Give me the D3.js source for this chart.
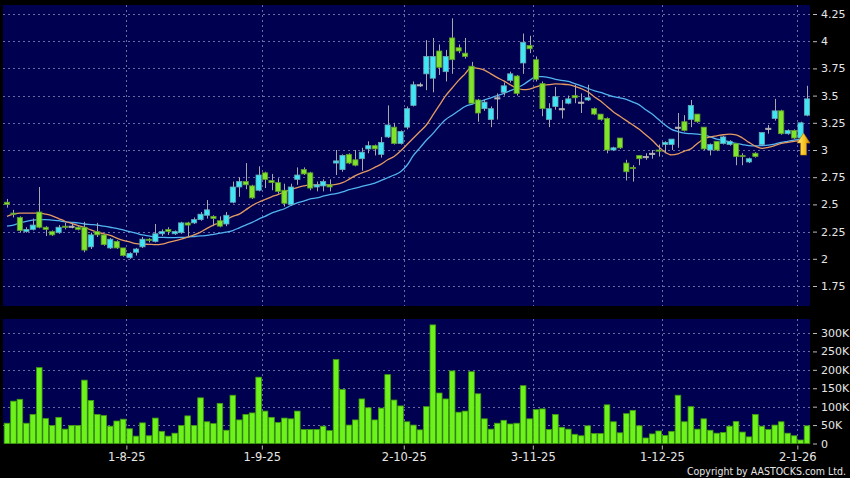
<!DOCTYPE html>
<html><head><meta charset="utf-8">
<script src="https://cdn.jsdelivr.net/npm/d3@7"></script>
<style>body{margin:0;background:#000;}svg{display:block;}</style>
</head><body><svg id="chart" width="850" height="478"></svg>
<script>
// ---------- DATA ----------
const openP  = [2.52,2.42,2.38,2.25,2.27,2.43,2.29,2.25,2.24,2.30,2.30,2.29,2.29,2.11,2.25,2.22,2.10,2.16,2.10,2.01,2.06,2.11,2.18,2.16,2.23,2.27,2.23,2.24,2.33,2.33,
2.36,2.40,2.39,2.35,2.32,2.52,2.66,2.71,2.67,2.63,2.79,2.72,2.70,2.63,2.50,2.73,2.82,2.79,2.66,2.67,2.68,2.88,2.82,2.96,2.91,2.92,3.01,3.04,2.96,3.12,
3.21,3.06,3.21,3.41,3.60,3.70,3.66,3.91,3.72,4.03,3.94,3.89,3.77,3.46,3.38,3.28,3.48,3.53,3.64,3.68,3.80,3.96,3.83,3.61,3.28,3.40,3.38,3.43,3.50,3.44,
3.46,3.38,3.33,3.29,3.00,3.11,2.88,2.84,2.95,2.94,2.97,3.00,3.05,3.05,3.21,3.26,3.28,3.33,3.21,3.00,3.08,3.06,3.05,3.06,2.95,2.89,2.97,3.05,3.20,3.29,
3.36,3.15,3.18,3.11,3.32];
const highP  = [2.55,2.45,2.39,2.29,2.37,2.66,2.30,2.26,2.31,2.33,2.32,2.30,2.34,2.24,2.33,2.23,2.19,2.17,2.10,2.06,2.10,2.20,2.19,2.32,2.27,2.29,2.26,2.34,2.34,2.38,
2.43,2.54,2.40,2.39,2.43,2.71,2.75,2.88,2.68,2.85,2.80,2.78,2.74,2.69,2.69,2.84,2.84,2.80,2.71,2.73,2.73,3.00,2.96,2.97,3.00,3.02,3.08,3.05,3.12,3.41,
3.25,3.18,3.40,3.63,3.62,4.01,4.03,3.97,3.92,4.21,3.97,4.03,3.81,3.47,3.46,3.40,3.52,3.62,3.72,3.69,4.07,4.05,3.86,3.63,3.43,3.58,3.46,3.50,3.60,3.52,
3.60,3.39,3.33,3.30,3.03,3.11,2.91,2.86,2.95,2.97,3.00,3.05,3.08,3.10,3.34,3.32,3.46,3.33,3.21,3.06,3.08,3.13,3.09,3.06,2.97,2.93,2.98,3.16,3.23,3.47,
3.37,3.19,3.19,3.26,3.59];
const lowP   = [2.47,2.38,2.24,2.24,2.26,2.28,2.21,2.21,2.23,2.27,2.28,2.26,2.06,2.09,2.20,2.12,2.09,2.09,2.02,2.00,2.03,2.10,2.15,2.15,2.21,2.22,2.22,2.23,2.20,2.32,
2.35,2.37,2.30,2.29,2.30,2.51,2.57,2.64,2.55,2.62,2.65,2.63,2.60,2.48,2.49,2.68,2.77,2.63,2.62,2.62,2.62,2.77,2.80,2.87,2.85,2.81,2.97,2.95,2.93,3.11,
3.05,3.05,3.19,3.40,3.58,3.55,3.53,3.69,3.63,3.70,3.89,3.84,3.42,3.26,3.36,3.21,3.28,3.50,3.62,3.50,3.70,3.89,3.63,3.31,3.21,3.37,3.29,3.42,3.43,3.34,
3.45,3.32,3.27,2.97,2.99,3.01,2.72,2.71,2.86,2.91,2.92,2.94,2.97,3.00,3.02,3.17,3.21,3.25,3.00,2.95,2.99,3.05,3.04,2.86,2.86,2.88,2.93,3.04,3.15,3.27,
3.14,3.14,3.10,3.10,3.31];
const closeP = [2.50,2.41,2.26,2.27,2.31,2.29,2.27,2.22,2.29,2.29,2.30,2.27,2.08,2.22,2.22,2.13,2.18,2.10,2.03,2.05,2.09,2.18,2.17,2.23,2.25,2.25,2.25,2.33,2.31,2.36,
2.41,2.45,2.37,2.30,2.40,2.66,2.71,2.68,2.56,2.77,2.73,2.70,2.62,2.51,2.66,2.77,2.78,2.65,2.68,2.71,2.66,2.90,2.95,2.88,2.86,2.98,3.04,3.01,3.07,3.23,
3.06,3.17,3.38,3.60,3.60,3.86,3.86,3.76,3.86,3.83,3.91,3.86,3.43,3.34,3.44,3.38,3.48,3.59,3.70,3.52,3.99,3.93,3.65,3.38,3.38,3.49,3.38,3.47,3.48,3.44,
3.48,3.33,3.28,3.00,3.02,3.02,2.80,2.83,2.92,2.94,2.97,2.99,3.07,3.10,3.21,3.18,3.41,3.26,3.01,3.05,3.00,3.12,3.08,2.94,2.94,2.92,2.94,3.16,3.20,3.36,
3.15,3.18,3.11,3.25,3.47];
const volumeK = [55,115,120,55,79,206,68,49,71,39,49,49,172,117,79,76,47,61,66,40,20,56,21,69,33,20,28,49,75,49,
124,59,54,109,36,131,64,79,83,180,88,71,57,69,67,88,38,38,38,47,35,228,147,50,64,121,97,64,96,187,
118,102,59,50,37,100,322,137,121,197,85,88,195,135,67,39,55,63,53,55,157,67,92,94,38,79,44,39,25,21,
48,27,27,105,59,29,81,90,48,15,26,34,22,33,131,59,100,39,67,36,28,30,47,60,31,18,79,47,38,50,
59,28,21,9.5,48];
// moving-average lines (orange, light blue)
const maShort = [2.39,2.41,2.42,2.42,2.42,2.42,2.41,2.395,2.37,2.345,2.325,2.305,2.29,2.265,2.245,2.23,2.215,2.19,2.17,2.155,2.14,2.135,2.133,2.13,2.135,2.15,2.165,2.18,2.20,2.22,
2.245,2.28,2.31,2.33,2.36,2.39,2.41,2.45,2.49,2.52,2.545,2.57,2.59,2.615,2.635,2.655,2.67,2.68,2.68,2.68,2.68,2.685,2.70,2.73,2.765,2.79,2.81,2.84,2.87,2.91,
2.94,2.99,3.05,3.11,3.17,3.23,3.32,3.41,3.50,3.57,3.64,3.70,3.76,3.75,3.735,3.70,3.665,3.635,3.60,3.57,3.555,3.56,3.58,3.595,3.60,3.607,3.605,3.60,3.585,3.565,
3.535,3.49,3.45,3.40,3.35,3.31,3.27,3.23,3.19,3.14,3.09,3.03,2.98,2.955,2.965,2.99,3.01,3.06,3.10,3.12,3.13,3.14,3.145,3.14,3.11,3.07,3.035,3.015,3.025,3.04,
3.06,3.07,3.08,3.09,3.10];
const maLong = [2.30,2.31,2.33,2.345,2.355,2.36,2.36,2.355,2.35,2.34,2.335,2.33,2.32,2.315,2.31,2.30,2.29,2.28,2.265,2.25,2.235,2.22,2.21,2.20,2.197,2.195,2.195,2.197,2.20,2.205,
2.21,2.215,2.225,2.235,2.245,2.26,2.285,2.31,2.335,2.365,2.39,2.42,2.44,2.46,2.49,2.515,2.53,2.55,2.56,2.575,2.59,2.60,2.615,2.635,2.65,2.665,2.68,2.695,2.72,2.745,
2.77,2.80,2.86,2.95,3.02,3.09,3.15,3.22,3.28,3.32,3.36,3.40,3.42,3.44,3.46,3.48,3.50,3.52,3.545,3.57,3.60,3.64,3.674,3.674,3.665,3.65,3.64,3.63,3.61,3.59,
3.567,3.545,3.53,3.51,3.49,3.48,3.465,3.44,3.415,3.37,3.33,3.28,3.23,3.19,3.17,3.155,3.15,3.145,3.14,3.12,3.10,3.09,3.075,3.06,3.05,3.04,3.037,3.04,3.045,3.055,
3.07,3.08,3.09,3.098,3.10];
const priceTicks = [1.75,2,2.25,2.5,2.75,3,3.25,3.5,3.75,4,4.25];
const priceTickLabels = ["1.75","2","2.25","2.5","2.75","3","3.25","3.5","3.75","4","4.25"];
const volTicks = [0,50,100,150,200,250,300];
const volTickLabels = ["0","50K","100K","150K","200K","250K","300K"];
const monthStartIndex = [19,40,62,82,102,123];
const monthLabels = ["1-8-25","1-9-25","2-10-25","3-11-25","1-12-25","2-1-26"];
const arrowIndex = 123;

// ---------- LAYOUT ----------
const svg = d3.select("#chart");
const P = {left:3, right:810, top:5, bottom:306};
const V = {top:319, bottom:443.5};
const n = closeP.length;
const x = d3.scaleLinear().domain([0, n-1]).range([7, 807]);
const y = d3.scaleLinear().domain([1.75, 4.25]).range([286, 14]);
const yv = d3.scaleLinear().domain([0, 300]).range([V.bottom, 333]);
const gridColor = "#6a6aa0";
const textColor = "#e6e6e6";
const font = "'DejaVu Sans', Verdana, sans-serif";

svg.append("rect").attr("width",850).attr("height",478).attr("fill","#000");
svg.append("rect").attr("x",P.left).attr("y",P.top).attr("width",P.right-P.left).attr("height",P.bottom-P.top).attr("fill","#000050");
svg.append("rect").attr("x",P.left).attr("y",V.top).attr("width",P.right-P.left).attr("height",V.bottom-V.top).attr("fill","#000050");

const gridX = monthStartIndex.map(i => x(i - 0.5));
const grid = svg.append("g").attr("stroke",gridColor).attr("stroke-width",1).attr("stroke-dasharray","2,3").attr("shape-rendering","crispEdges");
grid.selectAll(".hp").data(priceTicks).join("line").attr("class","hp")
  .attr("x1",P.left).attr("x2",P.right).attr("y1",d=>Math.round(y(d))+0.5).attr("y2",d=>Math.round(y(d))+0.5);
grid.selectAll(".hv").data(volTicks.slice(1)).join("line").attr("class","hv")
  .attr("x1",P.left).attr("x2",P.right).attr("y1",d=>Math.round(yv(d))+0.5).attr("y2",d=>Math.round(yv(d))+0.5);
grid.selectAll(".vp").data(gridX).join("line").attr("class","vp")
  .attr("x1",d=>Math.round(d)+0.5).attr("x2",d=>Math.round(d)+0.5).attr("y1",P.top).attr("y2",P.bottom);
grid.selectAll(".vv").data(gridX).join("line").attr("class","vv")
  .attr("x1",d=>Math.round(d)+0.5).attr("x2",d=>Math.round(d)+0.5).attr("y1",V.top).attr("y2",V.bottom);

function styleAxis(g){
  g.select(".domain").remove();
  g.selectAll(".tick line").attr("stroke","#bbbbbb");
  g.selectAll(".tick text").attr("fill",textColor).attr("font-family",font).attr("font-size","11px");
}
svg.append("g").attr("transform",`translate(${P.right+3},0)`)
  .call(d3.axisRight(y).tickValues(priceTicks).tickFormat((d,i)=>priceTickLabels[i]).tickSize(4).tickPadding(4))
  .call(styleAxis);
svg.append("g").attr("transform",`translate(${P.right+3},0)`)
  .call(d3.axisRight(yv).tickValues(volTicks).tickFormat((d,i)=>volTickLabels[i]).tickSize(4).tickPadding(4))
  .call(styleAxis);
const xa = svg.append("g").attr("transform",`translate(0,${V.bottom+2})`)
  .call(d3.axisBottom(x).tickValues(monthStartIndex.map(i=>i-0.5)).tickFormat((d,i)=>monthLabels[i]).tickSize(4).tickPadding(3));
styleAxis(xa);
xa.selectAll(".tick text").attr("font-size","11.5px");

// volume bars
const bw = 5.6;
svg.append("g").selectAll("rect").data(volumeK).join("rect")
  .attr("x",(d,i)=>x(i)-bw/2).attr("width",bw)
  .attr("y",d=>yv(d)).attr("height",d=>yv(0)-yv(d))
  .attr("fill","#6ef21c").attr("stroke","#3f9a10").attr("stroke-width",0.8);

// moving averages
const line = d3.line().x((d,i)=>x(i)).y(d=>y(d)).curve(d3.curveMonotoneX);
svg.append("path").datum(maLong).attr("d",line).attr("fill","none").attr("stroke","#52b4f0").attr("stroke-width",1.3);
svg.append("path").datum(maShort).attr("d",line).attr("fill","none").attr("stroke","#e59a62").attr("stroke-width",1.3);

// candles
const cw = 5.2;
const candles = svg.append("g");
const idx = d3.range(n);
candles.selectAll(".wick").data(idx).join("line").attr("class","wick")
  .attr("x1",i=>Math.round(x(i))+0.5).attr("x2",i=>Math.round(x(i))+0.5)
  .attr("y1",i=>y(highP[i])).attr("y2",i=>y(lowP[i]))
  .attr("stroke","#a8a8a8").attr("stroke-width",1);
candles.selectAll(".body").data(idx).join("rect").attr("class","body")
  .attr("x",i=>x(i)-cw/2).attr("width",cw)
  .attr("y",i=>y(Math.max(openP[i],closeP[i])))
  .attr("height",i=>Math.max(1.2, Math.abs(y(openP[i])-y(closeP[i]))))
  .attr("fill",i=>closeP[i]>openP[i]?"#3fe6f6":(closeP[i]<openP[i]?"#80e42c":"#b8b8b8"))
  .attr("stroke",i=>closeP[i]>openP[i]?"#6aa7b4":(closeP[i]<openP[i]?"#5e9a2c":"#b8b8b8"))
  .attr("stroke-width",0.8);

// arrow marker
const defs = svg.append("defs");
const gr = defs.append("linearGradient").attr("id","ag").attr("x1",0).attr("y1",0).attr("x2",1).attr("y2",0);
gr.append("stop").attr("offset","0%").attr("stop-color","#fff07a");
gr.append("stop").attr("offset","60%").attr("stop-color","#f4c21c");
gr.append("stop").attr("offset","100%").attr("stop-color","#c98a00");
const ax = x(arrowIndex) + 3, ay = y(lowP[arrowIndex]) - 6;
svg.append("path")
  .attr("d",`M${ax},${ay} L${ax+6.5},${ay+10} L${ax+3},${ay+10} L${ax+3},${ay+22} L${ax-3},${ay+22} L${ax-3},${ay+10} L${ax-6.5},${ay+10} Z`)
  .attr("fill","url(#ag)").attr("stroke","#a86d00").attr("stroke-width",0.6);

// copyright
svg.append("text").attr("x",846).attr("y",474.5).attr("text-anchor","end")
  .attr("fill",textColor).attr("font-family","'DejaVu Sans Condensed','Liberation Sans Narrow',sans-serif").attr("font-size","10.5px")
  .attr("textLength",159).attr("lengthAdjust","spacingAndGlyphs")
  .text("Copyright by AASTOCKS.com Ltd.");
</script></body></html>
